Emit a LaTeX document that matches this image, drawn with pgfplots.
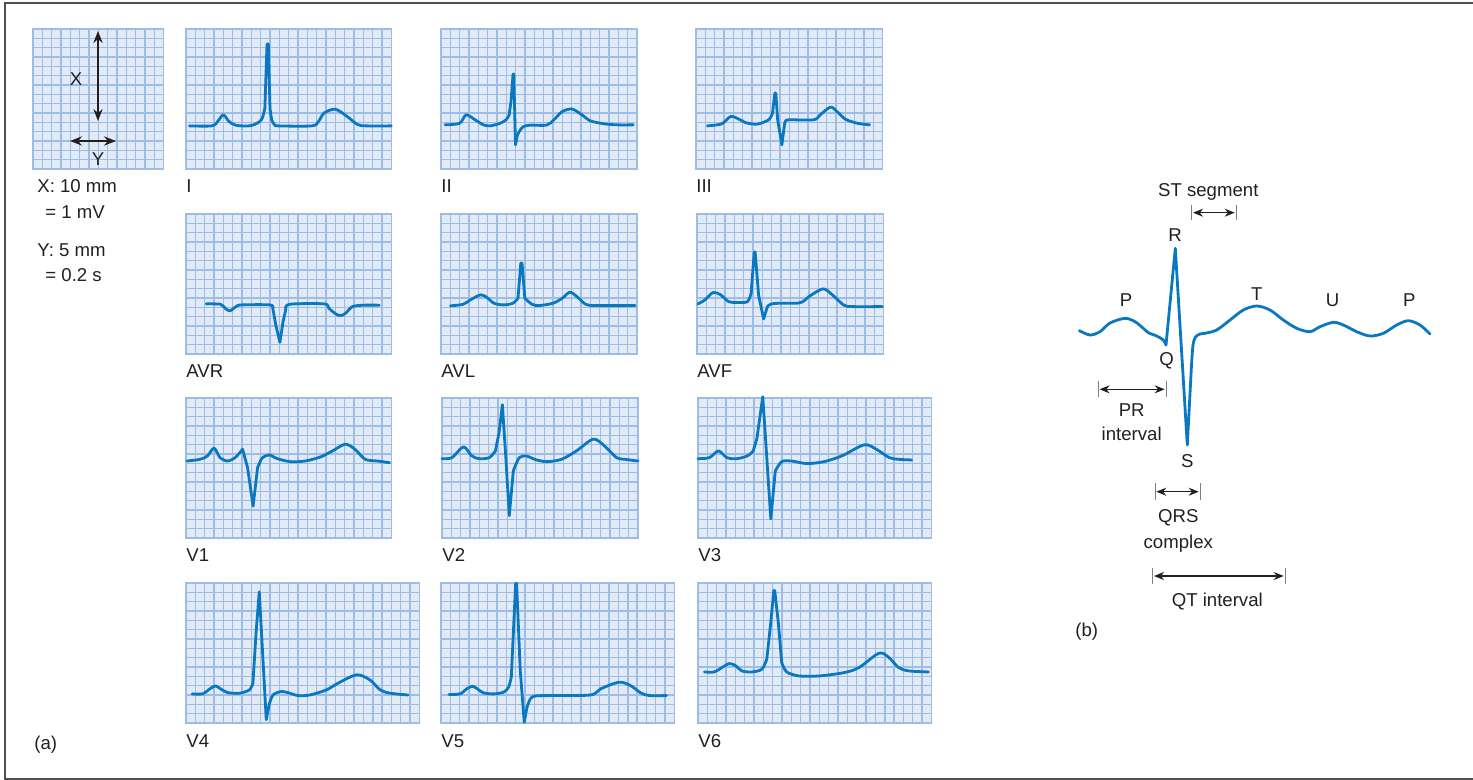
\documentclass[border=0pt]{standalone}
\usepackage{fontspec}
\setmainfont{Liberation Sans}
\usepackage{pgfplots}
\pgfplotsset{compat=1.18}
\usetikzlibrary{arrows.meta}
\definecolor{bgblue}{HTML}{E2EAF6}
\definecolor{gridblue}{HTML}{9DBDE6}
\definecolor{ecgblue}{HTML}{0A78C0}
\definecolor{txt}{HTML}{231F20}
\definecolor{framegray}{HTML}{505050}
\newcommand{\lbl}{\fontsize{9.3}{11}\selectfont}
\pgfplotsset{
  ecg/.style n args={3}{
    anchor=north west, at={(#1*0.5pt,-#2*0.5pt)},
    scale only axis, width=#3*4.66667pt, height=70pt,
    xmin=0, xmax=#3, ymin=0, ymax=15,
    xtick distance=1, ytick distance=1,
    xticklabels={}, yticklabels={},
    major tick length=0pt, tick style={draw=none},
    grid=major, grid style={draw=gridblue, line width=0.55pt},
    axis line style={draw=gridblue, line width=0.6pt},
    axis background/.style={fill=bgblue},
    clip=false,
  },
  ecgx/.style={extra x ticks={20}, extra x tick labels={}, extra x tick style={major grid style={draw=gridblue, line width=1.1pt}}},
  wave/.style={ecgblue, line width=1.4pt, smooth, tension=0.5, line join=round, line cap=round, no markers},
  spike/.style={ecgblue, line width=1.4pt, sharp plot, line join=round, line cap=round, no markers},
}
\tikzset{dbl/.style={txt, line width=0.6pt, {Stealth[length=5pt,width=4pt]}-{Stealth[length=5pt,width=4pt]}},
         bar/.style={gray, line width=0.5pt}}
\begin{document}
\begin{tikzpicture}
% calibration
\begin{axis}[ecg={33}{29}{14}]
\end{axis}
% I
\begin{axis}[ecg={186}{29}{22}]
\addplot[wave] coordinates {(0.36,4.62) (2.76,4.62) (3.4,5.1) (4.0,5.8) (4.6,5.1) (5.3,4.7) (6.5,4.6) (7.3,4.75) (8.1,5.3) (8.45,6.5)};
\addplot[spike] coordinates {(8.45,6.5) (8.68,13.4) (8.82,13.4) (9.0,6.5)};
\addplot[wave] coordinates {(9.0,6.5) (9.2,5.2) (9.5,4.75) (9.9,4.62) (13.5,4.62) (14.2,5.1) (14.8,6.0) (16.0,6.4) (17.3,5.6) (18.4,4.75) (19.4,4.62) (22,4.62)};
\end{axis}
% II
\begin{axis}[ecg={441}{29}{21}]
\addplot[wave] coordinates {(0.43,4.73) (2.0,4.9) (2.69,5.8) (3.65,5.27) (4.55,4.73) (5.27,4.62) (6.34,4.9) (7.0,5.3) (7.3,5.8)};
\addplot[spike] coordinates {(7.3,5.8) (7.5,7.2) (7.72,10.18) (7.8,10.18) (7.98,2.58) (8.2,3.66)};
\addplot[wave] coordinates {(8.2,3.66) (8.5,4.2) (8.85,4.55) (9.57,4.7) (11.3,4.7) (12.1,5.27) (13.0,6.16) (14.05,6.42) (15.1,5.8) (16.0,5.16) (17.5,4.84) (18.9,4.73) (20.6,4.73)};
\end{axis}
% III
\begin{axis}[ecg={696}{29}{20}]
\addplot[wave] coordinates {(1.22,4.62) (2.76,4.84) (3.73,5.63) (4.73,5.27) (5.27,4.98) (6.52,4.8) (7.78,5.27) (8.2,6.0)};
\addplot[spike] coordinates {(8.2,6.0) (8.45,8.14) (8.55,8.14) (8.75,5.27) (9.2,2.58) (9.5,4.9) (9.6,5.1)};
\addplot[wave] coordinates {(9.6,5.1) (9.93,5.27) (12.6,5.27) (13.3,5.8) (14.4,6.63) (15.1,6.16) (16.0,5.34) (17.3,4.9) (18.6,4.73)};
\end{axis}
% AVR
\begin{axis}[ecg={186}{214}{22}]
\addplot[wave] coordinates {(2.17,5.37) (3.69,5.33) (4.2,4.9) (4.7,4.62) (5.36,5.08) (5.97,5.26) (9.0,5.26) (9.3,4.9)};
\addplot[spike] coordinates {(9.3,4.9) (9.6,3.2) (10.06,1.25) (10.4,3.47) (10.7,4.8)};
\addplot[wave] coordinates {(10.7,4.8) (11.1,5.33) (14.8,5.37) (15.3,4.9) (16.1,4.26) (16.6,4.12) (17.1,4.37) (17.85,5.08) (19.1,5.23) (20.7,5.23)};
\end{axis}
% AVL
\begin{axis}[ecg={441}{214}{21}]
\addplot[wave] coordinates {(1.01,5.16) (2.38,5.33) (3.15,5.8) (4.26,6.34) (4.92,6.05) (5.68,5.44) (6.7,5.26) (7.7,5.44) (8.25,5.98)};
\addplot[spike] coordinates {(8.25,5.98) (8.55,9.74) (8.68,9.74) (8.98,5.98)};
\addplot[wave] coordinates {(8.98,5.98) (9.74,5.33) (10.5,5.19) (12.0,5.44) (13.0,5.98) (13.8,6.62) (14.55,6.16) (15.5,5.33) (16.6,5.19) (20.8,5.19)};
\end{axis}
% AVF
\begin{axis}[ecg={697}{214}{20}]
\addplot[wave] coordinates {(0.1,5.37) (0.86,5.8) (1.72,6.59) (2.53,6.34) (3.39,5.62) (4.4,5.51) (5.42,5.62) (5.8,6.5)};
\addplot[spike] coordinates {(5.8,6.5) (6.13,10.92) (6.23,10.92) (6.6,6.3) (7.14,3.76) (7.54,5.08)};
\addplot[wave] coordinates {(7.54,5.08) (8.2,5.41) (11.0,5.48) (12.0,6.16) (13.5,6.98) (14.5,6.34) (15.7,5.26) (16.6,5.08) (19.85,5.08)};
\end{axis}
% V1
\begin{axis}[ecg={186}{398}{22}]
\addplot[wave] coordinates {(0.1,8.25) (1.5,8.43) (2.3,8.79) (3.0,9.62) (3.65,8.61) (4.45,8.25) (5.26,8.61) (5.9,9.3)};
\addplot[spike] coordinates {(5.9,9.3) (6.06,9.51) (6.6,7.54) (7.19,3.41) (7.67,7.54) (8.0,8.3)};
\addplot[wave] coordinates {(8.0,8.3) (8.2,8.61) (8.9,8.9) (9.8,8.5) (11.16,8.18) (12.77,8.25) (14.4,8.68) (15.7,9.33) (17.06,10.05) (18.1,9.51) (19.2,8.43) (20.5,8.25) (21.8,8.07)};
\end{axis}
% V2
\begin{axis}[ecg={442}{398}{21}]
\addplot[wave] coordinates {(0,8.5) (1.07,8.61) (2.3,9.76) (3.2,8.79) (4.0,8.5) (5.07,8.61) (5.72,9.33)};
\addplot[spike] coordinates {(5.72,9.33) (6.1,11.2) (6.47,14.28) (6.84,8.61) (7.21,2.4) (7.64,7.18)};
\addplot[wave] coordinates {(7.64,7.18) (8.28,8.61) (9.08,8.79) (9.9,8.43) (11.2,8.18) (12.8,8.43) (14.4,9.33) (16.2,10.59) (17.4,9.87) (18.7,8.61) (19.6,8.43) (21.0,8.25)};
\end{axis}
% V3
\begin{axis}[ecg={698}{398}{25}, ecgx]
\addplot[wave] coordinates {(0,8.5) (1.23,8.61) (2.19,9.33) (3.1,8.61) (4.17,8.5) (5.3,8.8) (5.9,9.3)};
\addplot[spike] coordinates {(5.9,9.3) (6.3,10.6) (6.94,15.14) (7.37,8.61) (7.8,2.04) (8.28,7.18)};
\addplot[wave] coordinates {(8.28,7.18) (8.97,8.18) (10.04,8.25) (11.65,7.97) (13.5,8.18) (15.4,8.79) (17.8,9.98) (19.1,9.51) (20.5,8.61) (21.5,8.43) (22.9,8.36)};
\end{axis}
% V4
\begin{axis}[ecg={186}{583}{25}, ecgx]
\addplot[wave] coordinates {(0.65,3.12) (1.79,3.12) (2.5,3.62) (3.15,3.98) (3.76,3.62) (4.48,3.26) (5.73,3.19) (6.8,3.55) (7.17,4.27)};
\addplot[spike] coordinates {(7.17,4.27) (7.53,10) (7.85,14.05) (8.17,8.2) (8.6,0.36) (8.9,1.94)};
\addplot[wave] coordinates {(8.9,1.94) (9.32,3.0) (10.2,3.37) (10.9,3.26) (12.0,2.94) (13.26,3.0) (15.05,3.55) (16.3,4.27) (18.28,5.16) (19.7,4.62) (20.8,3.55) (21.9,3.19) (23.8,3.0)};
\end{axis}
% V5
\begin{axis}[ecg={441}{583}{25}, ecgx]
\addplot[wave] coordinates {(0.86,3.05) (2.04,3.12) (2.76,3.66) (3.4,3.94) (4.0,3.58) (4.55,3.23) (5.63,3.12) (6.7,3.3) (7.24,3.84) (7.53,4.91)};
\addplot[spike] coordinates {(7.53,4.91) (8.0,14.95) (8.1,14.95) (8.49,5.63) (8.92,0.07) (9.21,1.68)};
\addplot[wave] coordinates {(9.21,1.68) (9.57,2.58) (10.1,2.9) (11.7,2.94) (16.0,3.0) (17.1,3.66) (19.07,4.37) (20.3,4.01) (21.4,3.23) (22.3,2.94) (24.16,2.94)};
\end{axis}
% V6
\begin{axis}[ecg={698}{583}{25}, ecgx]
\addplot[wave] coordinates {(0.69,5.47) (1.76,5.47) (2.56,5.94) (3.37,6.37) (4.06,6.12) (4.7,5.58) (5.77,5.47) (6.84,5.76) (7.37,6.83)};
\addplot[spike] coordinates {(7.37,6.83) (7.8,10.8) (8.12,14.2) (8.22,14.2) (8.6,10.8) (8.97,6.47)};
\addplot[wave] coordinates {(8.97,6.47) (9.5,5.47) (10.84,5.04) (12.98,5.04) (15.65,5.4) (17.25,5.94) (19.4,7.48) (20.46,7.01) (21.5,5.94) (22.6,5.58) (24.7,5.47)};
\end{axis}
% canvas in pixel coordinates
\begin{axis}[anchor=north west, at={(0pt,0pt)}, scale only axis, width=736.5pt, height=390pt,
  xmin=0, xmax=1473, ymin=0, ymax=780, y dir=reverse, hide axis, clip=false]
\addplot[wave] coordinates {(1079.3,330.7) (1090,335) (1100,331.7) (1110,323) (1125,318.3) (1135,321.7) (1143.3,328.3) (1148.3,332.7) (1156.7,336) (1163.3,340) (1166,345)};
\addplot[spike] coordinates {(1166,345) (1175.3,248.3) (1187.3,445) (1191.5,365)};
\addplot[wave] coordinates {(1191.5,365) (1193,345) (1195.5,337) (1200,334) (1205,333.3) (1216.7,330) (1230,320) (1243.3,310) (1256.7,306) (1270,310) (1283.3,320) (1296.7,328.3) (1310,331.7) (1320,326.7) (1333.3,322.3) (1343.3,325) (1356.7,331.7) (1370,336) (1383.3,333.3) (1396.7,325) (1408.3,320.7) (1420,325) (1430,334)};
% frame
\draw[framegray, line width=1pt] (axis cs:1473,3) -- (axis cs:5,3) -- (axis cs:5,778.5) -- (axis cs:1473,778.5);
% calibration arrows
\draw[txt, line width=0.7pt, {Stealth[length=6pt,width=4.6pt]}-{Stealth[length=6pt,width=4.6pt]}] (axis cs:98,31) -- (axis cs:98,121);
\draw[txt, line width=0.7pt, {Stealth[length=6pt,width=4.6pt]}-{Stealth[length=6pt,width=4.6pt]}] (axis cs:70,141) -- (axis cs:116,141);
\begin{scope}[every node/.style={font=\lbl, text=txt, inner sep=0pt}]
\node[anchor=base] at (axis cs:76,85) {X};
\node[anchor=base] at (axis cs:98,165) {Y};
\node[anchor=base west] at (axis cs:37,192) {X: 10 mm};
\node[anchor=base west] at (axis cs:45,218) {= 1 mV};
\node[anchor=base west] at (axis cs:37,256) {Y: 5 mm};
\node[anchor=base west] at (axis cs:45,281) {= 0.2 s};
\node[anchor=base west] at (axis cs:34,749) {(a)};
% lead labels
\node[anchor=base west] at (axis cs:186,192) {I};
\node[anchor=base west] at (axis cs:441,192) {II};
\node[anchor=base west] at (axis cs:696,192) {III};
\node[anchor=base west] at (axis cs:186,377) {AVR};
\node[anchor=base west] at (axis cs:441,377) {AVL};
\node[anchor=base west] at (axis cs:697,377) {AVF};
\node[anchor=base west] at (axis cs:186,561) {V1};
\node[anchor=base west] at (axis cs:442,561) {V2};
\node[anchor=base west] at (axis cs:698,561) {V3};
\node[anchor=base west] at (axis cs:186,747) {V4};
\node[anchor=base west] at (axis cs:441,747) {V5};
\node[anchor=base west] at (axis cs:698,747) {V6};
% panel b labels
\node[anchor=base] at (axis cs:1208.3,196.7) {ST segment};
\node[anchor=base] at (axis cs:1175,241) {R};
\node[anchor=base] at (axis cs:1126,306.7) {P};
\node[anchor=base] at (axis cs:1256.7,300) {T};
\node[anchor=base] at (axis cs:1332.7,306.7) {U};
\node[anchor=base] at (axis cs:1409.3,306.7) {P};
\node[anchor=base] at (axis cs:1166.7,365) {Q};
\node[anchor=base] at (axis cs:1131.7,416.7) {PR};
\node[anchor=base] at (axis cs:1131.7,440) {interval};
\node[anchor=base] at (axis cs:1187.3,467.7) {S};
\node[anchor=base] at (axis cs:1178.3,522.7) {QRS};
\node[anchor=base] at (axis cs:1178.3,548) {complex};
\node[anchor=base] at (axis cs:1217.3,606.7) {QT interval};
\node[anchor=base west] at (axis cs:1075,636) {(b)};
\end{scope}
% interval arrows
\draw[bar] (axis cs:1191.7,205) -- (axis cs:1191.7,220);
\draw[bar] (axis cs:1236,205) -- (axis cs:1236,220);
\draw[dbl] (axis cs:1193,212.7) -- (axis cs:1234.7,212.7);
\draw[bar] (axis cs:1098.3,380.7) -- (axis cs:1098.3,397.3);
\draw[bar] (axis cs:1166,380.7) -- (axis cs:1166,397.3);
\draw[dbl] (axis cs:1099.6,389.3) -- (axis cs:1164.7,389.3);
\draw[bar] (axis cs:1155,483) -- (axis cs:1155,500);
\draw[bar] (axis cs:1200,483) -- (axis cs:1200,500);
\draw[dbl] (axis cs:1156.3,491.7) -- (axis cs:1198.7,491.7);
\draw[bar] (axis cs:1152.7,568) -- (axis cs:1152.7,584);
\draw[bar] (axis cs:1285,568) -- (axis cs:1285,584);
\draw[dbl] (axis cs:1154,576) -- (axis cs:1283.7,576);
\end{axis}
\pgfresetboundingbox
\useasboundingbox (0pt,-390pt) rectangle (736.5pt,0pt);
\end{tikzpicture}
\end{document}
